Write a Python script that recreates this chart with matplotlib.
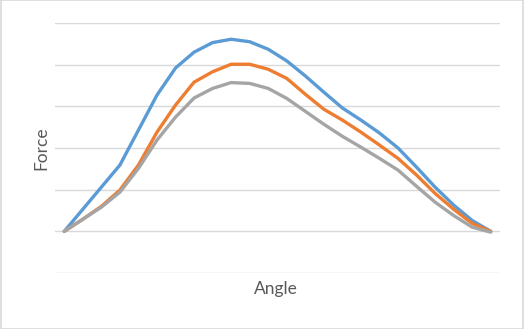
import numpy as np
import matplotlib
matplotlib.use("Agg")
import matplotlib.pyplot as plt

# force curves sampled at 24 angle steps
angles = np.arange(24)
force_blue = [0.00, 0.53, 1.06, 1.59, 2.43, 3.27, 3.92, 4.30, 4.53, 4.61, 4.55, 4.37,
              4.09, 3.73, 3.34, 2.96, 2.67, 2.36, 2.00, 1.54, 1.06, 0.63, 0.26, 0.00]
force_orange = [0.00, 0.29, 0.60, 0.99, 1.59, 2.38, 3.03, 3.58, 3.83, 4.01, 4.01, 3.89,
                3.67, 3.29, 2.93, 2.67, 2.38, 2.07, 1.75, 1.35, 0.91, 0.53, 0.19, 0.00]
force_gray = [0.00, 0.29, 0.58, 0.94, 1.51, 2.19, 2.74, 3.20, 3.43, 3.57, 3.55, 3.43,
              3.19, 2.88, 2.57, 2.28, 2.02, 1.75, 1.47, 1.08, 0.70, 0.38, 0.10, -0.02]

fig = plt.figure(figsize=(5.24, 3.29), dpi=100)
ax = fig.add_axes([55 / 524, (329 - 273) / 329, 445 / 524, 250 / 329])

lw = 2.4
ax.plot(angles, force_blue, color="#5B9BD5", lw=lw, solid_joinstyle="round", solid_capstyle="round")
ax.plot(angles, force_orange, color="#ED7D31", lw=lw, solid_joinstyle="round", solid_capstyle="round")
ax.plot(angles, force_gray, color="#A5A5A5", lw=lw, solid_joinstyle="round", solid_capstyle="round")

ax.set_xlim(-0.5, 23.5)
ax.set_ylim(-1, 5)
ax.set_yticks(np.arange(-1, 6))
ax.set_xticks([])
ax.tick_params(axis="y", length=0, labelleft=False)
ax.grid(axis="y", color="#D9D9D9", lw=1)
ax.set_axisbelow(True)
for s in ax.spines.values():
    s.set_visible(False)

fig.text(41 / 524, 1 - 148 / 329, "Force", rotation=90, ha="center", va="center",
         fontsize=12.5, color="#595959", family="Lato")
fig.text(276 / 524, 1 - 289 / 329, "Angle", ha="center", va="center",
         fontsize=12.5, color="#595959", family="Lato")

# light chart border
fig.patches.append(plt.Rectangle((0.001, 0.0015), 0.998, 0.997, transform=fig.transFigure,
                                 fill=False, edgecolor="#D9D9D9", lw=1.2))

fig.savefig("out.png", dpi=100)
